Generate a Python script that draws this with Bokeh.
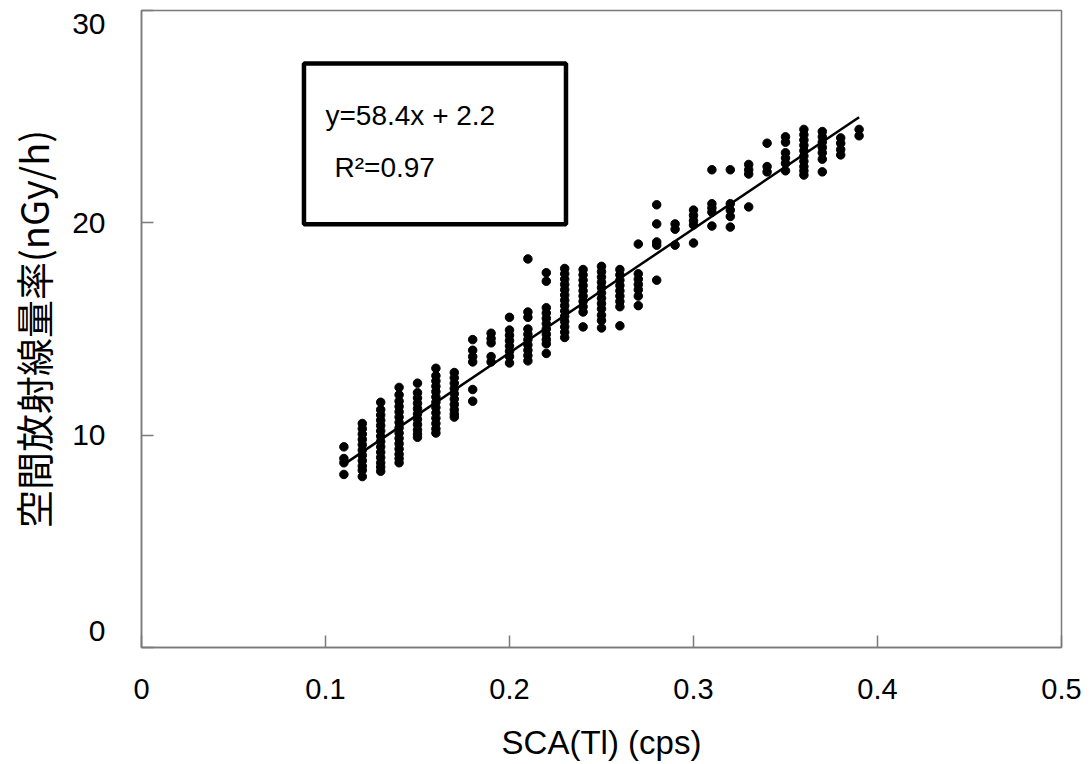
from bokeh.plotting import figure
from bokeh.models import (Range1d, FixedTicker, BoxAnnotation, Label,
                          ColumnDataSource, LinearAxis)
from bokeh.embed import file_html
from bokeh.resources import INLINE

# ---- data ----
SCA_X = [0.11, 0.12, 0.13, 0.14, 0.15, 0.16, 0.17, 0.18, 0.19, 0.20,
         0.21, 0.22, 0.23, 0.24, 0.25, 0.26, 0.27, 0.28, 0.29, 0.30,
         0.31, 0.32, 0.33, 0.34, 0.35, 0.36, 0.37, 0.38, 0.39]

y_011 = [9.45, 8.9, 8.7, 8.15]
y_012 = [10.55, 10.3, 10.05, 9.8, 9.55, 9.3, 9.05, 8.8, 8.55, 8.35, 8.05]
y_013 = [11.55, 11.2, 10.95, 10.7, 10.45, 10.2, 9.95, 9.7, 9.45, 9.2, 8.95, 8.7, 8.5, 8.3]
y_014 = [12.25, 11.9, 11.6, 11.35, 11.1, 10.85, 10.6, 10.35, 10.1, 9.85, 9.6, 9.35, 9.1, 8.9, 8.7]
y_015 = [12.45, 12.0, 11.75, 11.5, 11.25, 11.0, 10.75, 10.5, 10.25, 10.05, 9.9]
y_016 = [13.15, 12.8, 12.55, 12.3, 12.05, 11.8, 11.55, 11.3, 11.05, 10.8, 10.55, 10.3, 10.1]
y_017 = [12.95, 12.7, 12.45, 12.2, 11.95, 11.7, 11.45, 11.2, 11.0, 10.85]
y_018 = [14.5, 14.0, 13.7, 13.45, 12.15, 11.6]
y_019 = [14.8, 14.55, 14.35, 13.7, 13.45]
y_020 = [15.55, 14.95, 14.7, 14.45, 14.2, 13.95, 13.7, 13.4]
y_021 = [18.3, 15.8, 15.55, 15.0, 14.75, 14.5, 14.25, 14.0, 13.75, 13.5]
y_022 = [17.65, 17.25, 16.0, 15.75, 15.5, 15.25, 15.0, 14.75, 14.5, 14.3, 13.85]
y_023 = [17.85, 17.6, 17.35, 17.1, 16.85, 16.6, 16.35, 16.1, 15.85, 15.6, 15.35, 15.1, 14.85, 14.6]
y_024 = [17.8, 17.55, 17.3, 17.05, 16.8, 16.55, 16.3, 16.05, 15.8, 15.1]
y_025 = [17.95, 17.7, 17.45, 17.2, 16.95, 16.7, 16.45, 16.2, 15.95, 15.65, 15.4, 15.05]
y_026 = [17.8, 17.55, 17.3, 17.05, 16.8, 16.55, 16.3, 16.05, 15.15]
y_027 = [19.0, 17.6, 17.35, 17.1, 16.85, 16.55, 16.1]
y_028 = [20.85, 19.95, 19.1, 18.95, 17.3]
y_029 = [19.95, 19.7, 18.95]
y_030 = [20.6, 20.35, 20.1, 19.9, 19.05]
y_031 = [22.5, 20.9, 20.7, 20.5, 19.85]
y_032 = [22.5, 20.9, 20.6, 20.3, 19.8]
y_033 = [22.75, 22.5, 22.3, 20.75]
y_034 = [23.75, 22.65, 22.4]
y_035 = [24.05, 23.8, 23.3, 23.05, 22.8, 22.45]
y_036 = [24.4, 24.15, 23.9, 23.65, 23.4, 23.15, 22.9, 22.65, 22.45, 22.25]
y_037 = [24.3, 24.05, 23.8, 23.55, 23.3, 23.0, 22.4]
y_038 = [24.0, 23.75, 23.45, 23.2]
y_039 = [24.4, 24.1]

DOSE_COLUMNS = [y_011, y_012, y_013, y_014, y_015, y_016, y_017, y_018, y_019, y_020,
                y_021, y_022, y_023, y_024, y_025, y_026, y_027, y_028, y_029, y_030,
                y_031, y_032, y_033, y_034, y_035, y_036, y_037, y_038, y_039]

FIT_SLOPE = 58.4
FIT_INTERCEPT = 2.2
FIT_R2 = 0.97
FIT_X = [0.11, 0.39]

X_TICKS = [0, 0.1, 0.2, 0.3, 0.4, 0.5]
X_TICK_LABELS = ["0", "0.1", "0.2", "0.3", "0.4", "0.5"]
Y_TICKS = [0, 10, 20, 30]
Y_TICK_LABELS = ["0", "10", "20", "30"]

X_TITLE = "SCA(Tl) (cps)"
Y_TITLE = "空間放射線量率(nGy/h)"

# ---- build ----
xs, ys = [], []
for xv, col in zip(SCA_X, DOSE_COLUMNS):
    for yv in col:
        xs.append(xv)
        ys.append(yv)

FRAME = "#7a7a7a"
LATIN = "Liberation Sans"

p = figure(width=1090, height=764,
           x_range=Range1d(0, 0.5), y_range=Range1d(0, 30),
           output_backend="svg", toolbar_location=None,
           min_border_left=141, min_border_right=29,
           min_border_top=10, min_border_bottom=117)

p.background_fill_color = "white"
p.border_fill_color = "white"
p.outline_line_color = FRAME
p.outline_line_width = 1.5
p.grid.visible = False

# x axis
xa = p.xaxis[0]
xa.ticker = FixedTicker(ticks=X_TICKS)
xa.major_label_overrides = {t: l for t, l in zip(X_TICKS, X_TICK_LABELS)}
xa.major_tick_in = 12
xa.major_tick_out = 0
xa.minor_tick_in = 0
xa.minor_tick_out = 0
xa.axis_line_color = FRAME
xa.axis_line_width = 1.5
xa.major_tick_line_color = FRAME
xa.major_tick_line_width = 1.5
xa.major_label_text_font = LATIN
xa.major_label_text_font_size = "29px"
xa.major_label_text_color = "black"
xa.major_label_standoff = 31
xa.axis_label = X_TITLE
xa.axis_label_text_font = LATIN
xa.axis_label_text_font_size = "33px"
xa.axis_label_text_font_style = "normal"
xa.axis_label_text_color = "black"
xa.axis_label_standoff = 22

# y axis: inner axis carries the tick marks only
ya = p.yaxis[0]
ya.ticker = FixedTicker(ticks=Y_TICKS)
ya.major_label_overrides = {t: "" for t in Y_TICKS}
ya.major_label_text_font_size = "0px"
ya.major_label_standoff = 0
ya.major_tick_in = 12
ya.major_tick_out = 0
ya.minor_tick_in = 0
ya.minor_tick_out = 0
ya.axis_line_color = FRAME
ya.axis_line_width = 1.5
ya.major_tick_line_color = FRAME
ya.major_tick_line_width = 1.5

# outer axis carries the tick labels (nudged inside the range ends) and title
label_pos = [min(max(t, 0.8), 29.35) for t in Y_TICKS]
lab_axis = LinearAxis(ticker=FixedTicker(ticks=label_pos),
                      major_label_overrides={pos: l for pos, l in zip(label_pos, Y_TICK_LABELS)})
lab_axis.axis_line_color = None
lab_axis.major_tick_line_color = None
lab_axis.minor_tick_line_color = None
lab_axis.major_tick_in = 0
lab_axis.major_tick_out = 0
lab_axis.minor_tick_in = 0
lab_axis.minor_tick_out = 0
lab_axis.major_label_standoff = 36
lab_axis.major_label_text_font = LATIN
lab_axis.major_label_text_font_size = "30px"
lab_axis.major_label_text_color = "black"
lab_axis.axis_label = Y_TITLE
lab_axis.axis_label_text_font = "Noto Sans CJK JP"
lab_axis.axis_label_text_font_size = "38px"
lab_axis.axis_label_text_font_style = "normal"
lab_axis.axis_label_text_color = "black"
lab_axis.axis_label_standoff = 9
p.add_layout(lab_axis, "left")

# data points
src = ColumnDataSource(dict(x=xs, y=ys))
p.scatter("x", "y", source=src, size=8.5, marker="circle",
          fill_color="black", line_color="black")

# regression line
fit_y = [FIT_SLOPE * v + FIT_INTERCEPT for v in FIT_X]
p.line(FIT_X, fit_y, line_color="black", line_width=2.5)

# equation box
p.add_layout(BoxAnnotation(left=0.0883, right=0.2307, bottom=19.93, top=27.5,
                           fill_alpha=0, line_color="black", line_alpha=1.0,
                           line_width=4.5))
p.add_layout(Label(x=0.1, y=25.05, text=f"y={FIT_SLOPE}x + {FIT_INTERCEPT}",
                   text_align="left", text_baseline="middle",
                   text_font=LATIN, text_font_size="28px", text_color="black"))
p.add_layout(Label(x=0.1049, y=22.6, text=f"R²={FIT_R2}",
                   text_align="left", text_baseline="middle",
                   text_font=LATIN, text_font_size="28px", text_color="black"))

open("out.html", "w").write(file_html(p, INLINE))
